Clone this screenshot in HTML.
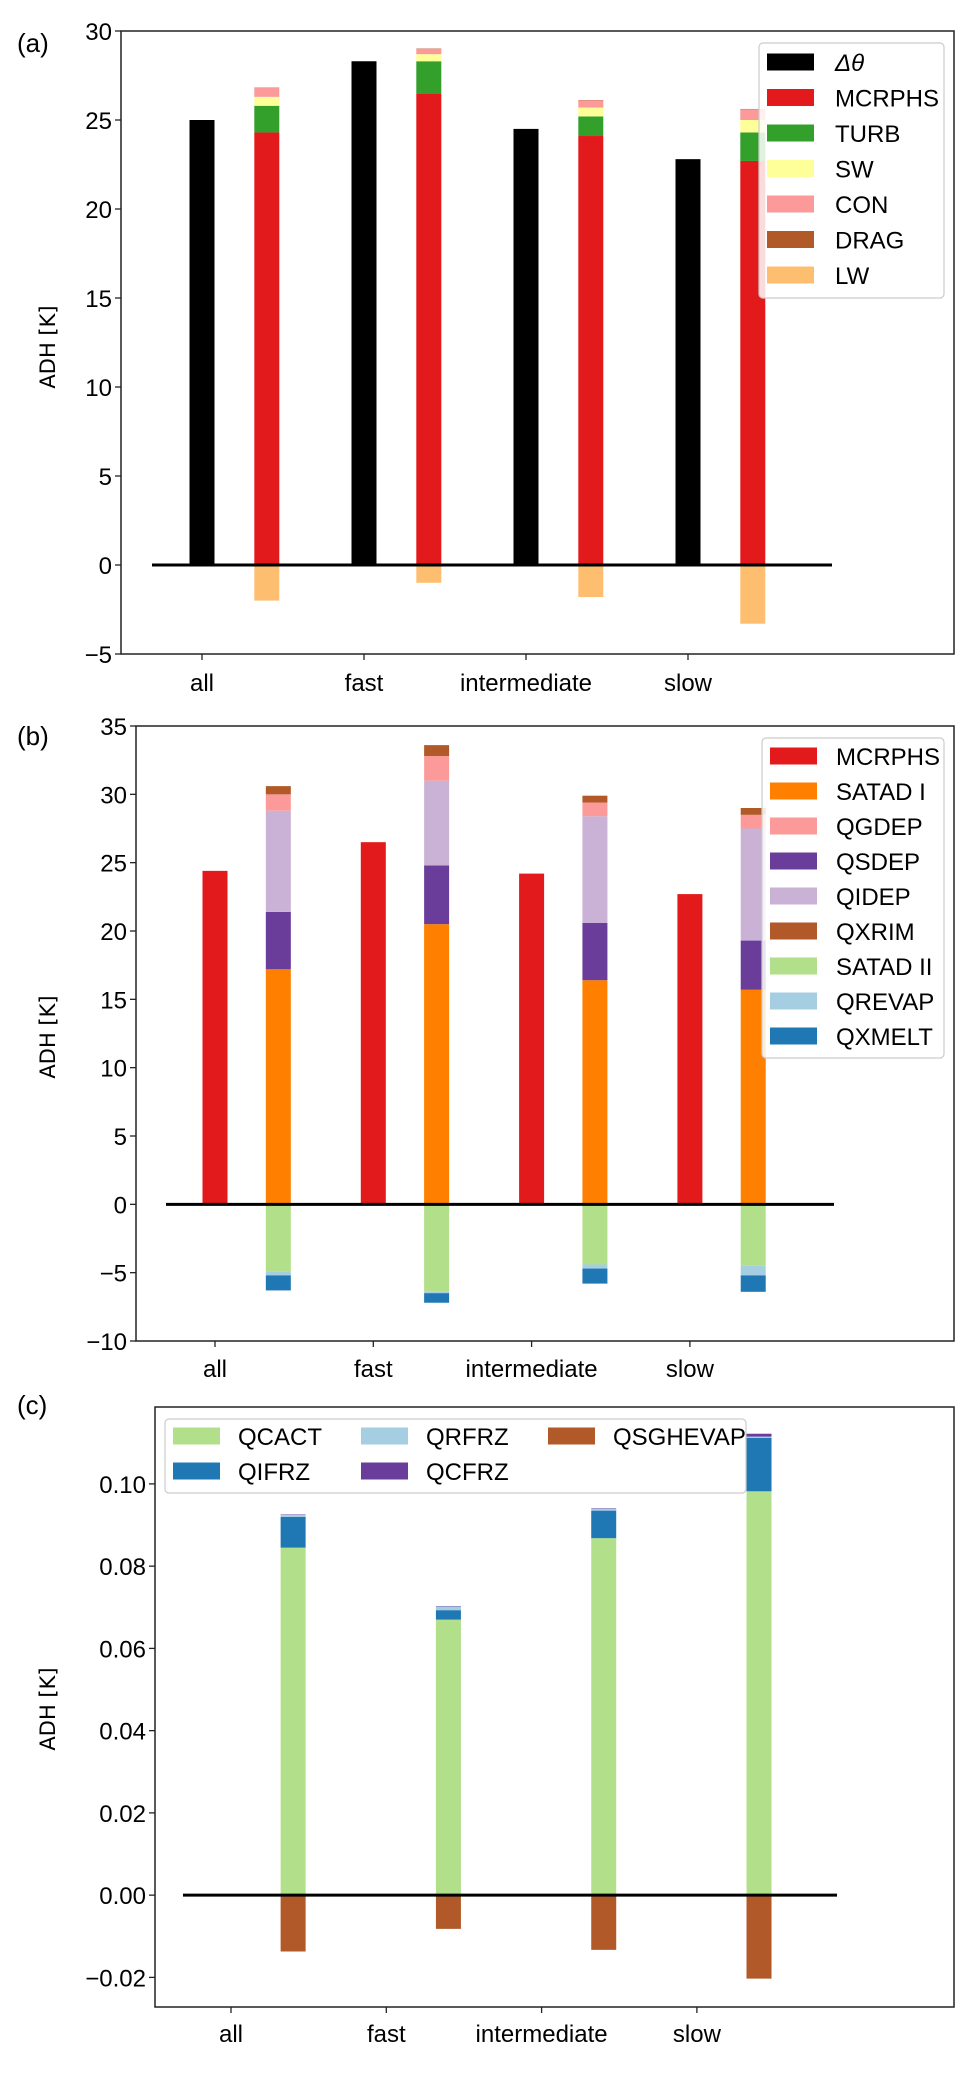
<!DOCTYPE html>
<html><head><meta charset="utf-8"><style>
html,body{margin:0;padding:0;background:#fff}
svg text{font-family:"Liberation Sans","DejaVu Sans",sans-serif;fill:#000}
</style></head><body>
<svg id="fig" width="979" height="2080" viewBox="0 0 979 2080" xmlns="http://www.w3.org/2000/svg"></svg>
<script>
const categories=['all','fast','intermediate','slow'];
// panel a
const deltaTheta=[25.0,28.3,24.5,22.8];
const aMcrphs=[24.3,26.5,24.1,22.7];
const aTurb=[1.5,1.8,1.1,1.6];
const aSw=[0.5,0.4,0.5,0.7];
const aCon=[0.5,0.3,0.4,0.6];
const aDrag=[0.02,0.02,0.02,0.02];
const aLw=[-2.0,-1.0,-1.8,-3.3];
const aTicks=[-5,0,5,10,15,20,25,30];
const aTickLabels=['\u22125','0','5','10','15','20','25','30'];
// panel b
const bMcrphs=[24.4,26.5,24.2,22.7];
const bSatad1=[17.2,20.5,16.4,15.7];
const bQsdep=[4.2,4.3,4.2,3.6];
const bQidep=[7.4,6.2,7.8,8.2];
const bQgdep=[1.2,1.8,1.0,1.0];
const bQxrim=[0.6,0.8,0.5,0.5];
const bSatad2=[-4.9,-6.4,-4.4,-4.5];
const bQrevap=[-0.3,-0.1,-0.3,-0.7];
const bQxmelt=[-1.1,-0.7,-1.1,-1.2];
const bTicks=[-10,-5,0,5,10,15,20,25,30,35];
const bTickLabels=['\u221210','\u22125','0','5','10','15','20','25','30','35'];
// panel c
const cQcact=[0.0845,0.067,0.0868,0.0982];
const cQifrz=[0.0075,0.0023,0.0067,0.013];
const cQrfrz=[0.0005,0.0009,0.0005,0.0003];
const cQcfrz=[0.0001,0.0001,0.0001,0.0007];
const cQsghevap=[-0.0137,-0.0082,-0.0133,-0.0203];
const cTicks=[-0.02,0,0.02,0.04,0.06,0.08,0.10];
const cTickLabels=['\u22120.02','0.00','0.02','0.04','0.06','0.08','0.10'];

const NS='http://www.w3.org/2000/svg';
const svg=document.getElementById('fig');
function mk(tag,attrs,parent){const e=document.createElementNS(NS,tag);for(const k in attrs)e.setAttribute(k,attrs[k]);(parent||svg).appendChild(e);return e;}

function panel(P){
  const g=mk('g',{});
  
  
  const ys=v=>P.top+(P.ymax-v)/(P.ymax-P.ymin)*(P.bottom-P.top);
  const xs=i=>P.x0+i*P.step;
  const bw=25;
  if(P.single){
    P.single.vals.forEach((v,i)=>{
      const r=mk('rect',{x:xs(i)-bw/2,y:Math.min(ys(v),ys(0)),width:bw,height:Math.abs(ys(v)-ys(0)),fill:P.single.color},g);
      
      
    });
  }
  const off=P.step*0.4;
  categories.forEach((c,i)=>{
    let acc=0;
    P.pos.forEach(s=>{
      const v=s.vals[i];const y1=ys(acc),y2=ys(acc+v);
      const r=mk('rect',{x:xs(i)+off-bw/2,y:y2,width:bw,height:Math.max(0,y1-y2),fill:s.color},g);
      
      
      acc+=v;
    });
    acc=0;
    P.neg.forEach(s=>{
      const v=s.vals[i];const y1=ys(acc),y2=ys(acc+v);
      const r=mk('rect',{x:xs(i)+off-bw/2,y:y1,width:bw,height:Math.max(0,y2-y1),fill:s.color},g);
      
      
      acc+=v;
    });
  });
  const zl=mk('line',{x1:P.zx1,x2:P.zx2,y1:ys(0),y2:ys(0),stroke:'#000','stroke-width':3},g);
  
  
  const fr=mk('rect',{x:P.left,y:P.top,width:P.right-P.left,height:P.bottom-P.top,fill:'none',stroke:'#222','stroke-width':1.5},g);
  
  
  P.ticks.forEach((t,k)=>{
    const y=ys(t);
    mk('line',{x1:P.left-6,x2:P.left,y1:y,y2:y,stroke:'#222','stroke-width':1.3},g);
    const tx=mk('text',{x:P.left-9,y:y+9,'text-anchor':'end','font-size':24},g);
    tx.textContent=P.tickLabels[k];
    
    
  });
  categories.forEach((c,i)=>{
    mk('line',{x1:xs(i),x2:xs(i),y1:P.bottom,y2:P.bottom+6,stroke:'#222','stroke-width':1.3},g);
    const tx=mk('text',{x:xs(i),y:P.xlabY,'text-anchor':'middle','font-size':24},g);
    tx.textContent=c;
    
    
  });
  const yl=mk('text',{x:0,y:0,'text-anchor':'middle','font-size':21,transform:`translate(55,${P.ylabY}) rotate(-90)`,style:'font-family:"DejaVu Sans",sans-serif'},g);
  yl.textContent='ADH [K]';
  
  
  const pl=mk('text',{x:17,y:P.letterY,'font-size':26},g);
  pl.textContent=P.letter;
  
  
  const L=P.legend;
  const lg=mk('g',{},g);
  
  
  mk('rect',{x:L.x,y:L.y,width:L.w,height:L.h,rx:4,fill:'#fff','fill-opacity':0.85,stroke:'#ccc','stroke-width':1.2},lg);
  L.items.forEach((it,k)=>{
    const col=k%L.cols,row=Math.floor(k/L.cols);
    const px=L.px[col],cy=L.cy0+row*L.dy;
    const e=mk('g',{},lg);
    
    
    mk('rect',{x:px,y:cy-8.5,width:47,height:17,fill:it.color},e);
    const t=mk('text',{x:px+L.tdx,y:cy+9,'font-size':24},e);
    if(it.html){t.innerHTML=it.html;}else t.textContent=it.label;
  });
}

const C={red:'#e31a1c',green:'#33a02c',yellow:'#ffff99',pink:'#fb9a99',brown:'#b15928',lorange:'#fdbf6f',orange:'#ff7f00',purple:'#6a3d9a',lilac:'#cab2d6',lgreen:'#b2df8a',lblue:'#a6cee3',blue:'#1f78b4'};

panel({name:'panel-a',letter:'(a)',letterY:52,left:121,right:954,top:31,bottom:654,ymin:-5,ymax:30,
  ticks:aTicks,tickLabels:aTickLabels,x0:202,step:162,zx1:152,zx2:832,xlabY:691,ylabY:347,
  single:{key:'delta-theta',vals:deltaTheta,color:'#000'},
  pos:[{key:'mcrphs',vals:aMcrphs,color:C.red},{key:'turb',vals:aTurb,color:C.green},{key:'sw',vals:aSw,color:C.yellow},{key:'con',vals:aCon,color:C.pink},{key:'drag',vals:aDrag,color:C.brown}],
  neg:[{key:'lw',vals:aLw,color:C.lorange}],
  legend:{x:759,y:43,w:185,h:255,cols:1,px:[767],tdx:68,cy0:62,dy:35.5,items:[
    {html:'<tspan font-style="italic">\u0394\u03b8</tspan>',color:'#000'},{label:'MCRPHS',color:C.red},{label:'TURB',color:C.green},{label:'SW',color:C.yellow},{label:'CON',color:C.pink},{label:'DRAG',color:C.brown},{label:'LW',color:C.lorange}]}
});

panel({name:'panel-b',letter:'(b)',letterY:745,left:136,right:954,top:726,bottom:1341,ymin:-10,ymax:35,
  ticks:bTicks,tickLabels:bTickLabels,x0:215,step:158.3,zx1:166,zx2:834,xlabY:1377,ylabY:1037,
  single:{key:'mcrphs',vals:bMcrphs,color:C.red},
  pos:[{key:'satad-i',vals:bSatad1,color:C.orange},{key:'qsdep',vals:bQsdep,color:C.purple},{key:'qidep',vals:bQidep,color:C.lilac},{key:'qgdep',vals:bQgdep,color:C.pink},{key:'qxrim',vals:bQxrim,color:C.brown}],
  neg:[{key:'satad-ii',vals:bSatad2,color:C.lgreen},{key:'qrevap',vals:bQrevap,color:C.lblue},{key:'qxmelt',vals:bQxmelt,color:C.blue}],
  legend:{x:762,y:738,w:182,h:320,cols:1,px:[770],tdx:66,cy0:756,dy:35,items:[
    {label:'MCRPHS',color:C.red},{label:'SATAD I',color:C.orange},{label:'QGDEP',color:C.pink},{label:'QSDEP',color:C.purple},{label:'QIDEP',color:C.lilac},{label:'QXRIM',color:C.brown},{label:'SATAD II',color:C.lgreen},{label:'QREVAP',color:C.lblue},{label:'QXMELT',color:C.blue}]}
});

panel({name:'panel-c',letter:'(c)',letterY:1414,left:155,right:954,top:1407,bottom:2007,ymin:-0.0272,ymax:0.1187,
  ticks:cTicks,tickLabels:cTickLabels,x0:231,step:155.3,zx1:183,zx2:837,xlabY:2042,ylabY:1709,
  single:null,
  pos:[{key:'qcact',vals:cQcact,color:C.lgreen},{key:'qifrz',vals:cQifrz,color:C.blue},{key:'qrfrz',vals:cQrfrz,color:C.lblue},{key:'qcfrz',vals:cQcfrz,color:C.purple}],
  neg:[{key:'qsghevap',vals:cQsghevap,color:C.brown}],
  legend:{x:165,y:1419,w:581,h:74,cols:3,px:[173,361,548],tdx:65,cy0:1436,dy:35,items:[
    {label:'QCACT',color:C.lgreen},{label:'QRFRZ',color:C.lblue},{label:'QSGHEVAP',color:C.brown},{label:'QIFRZ',color:C.blue},{label:'QCFRZ',color:C.purple}]}
});
</script>
</body></html>
